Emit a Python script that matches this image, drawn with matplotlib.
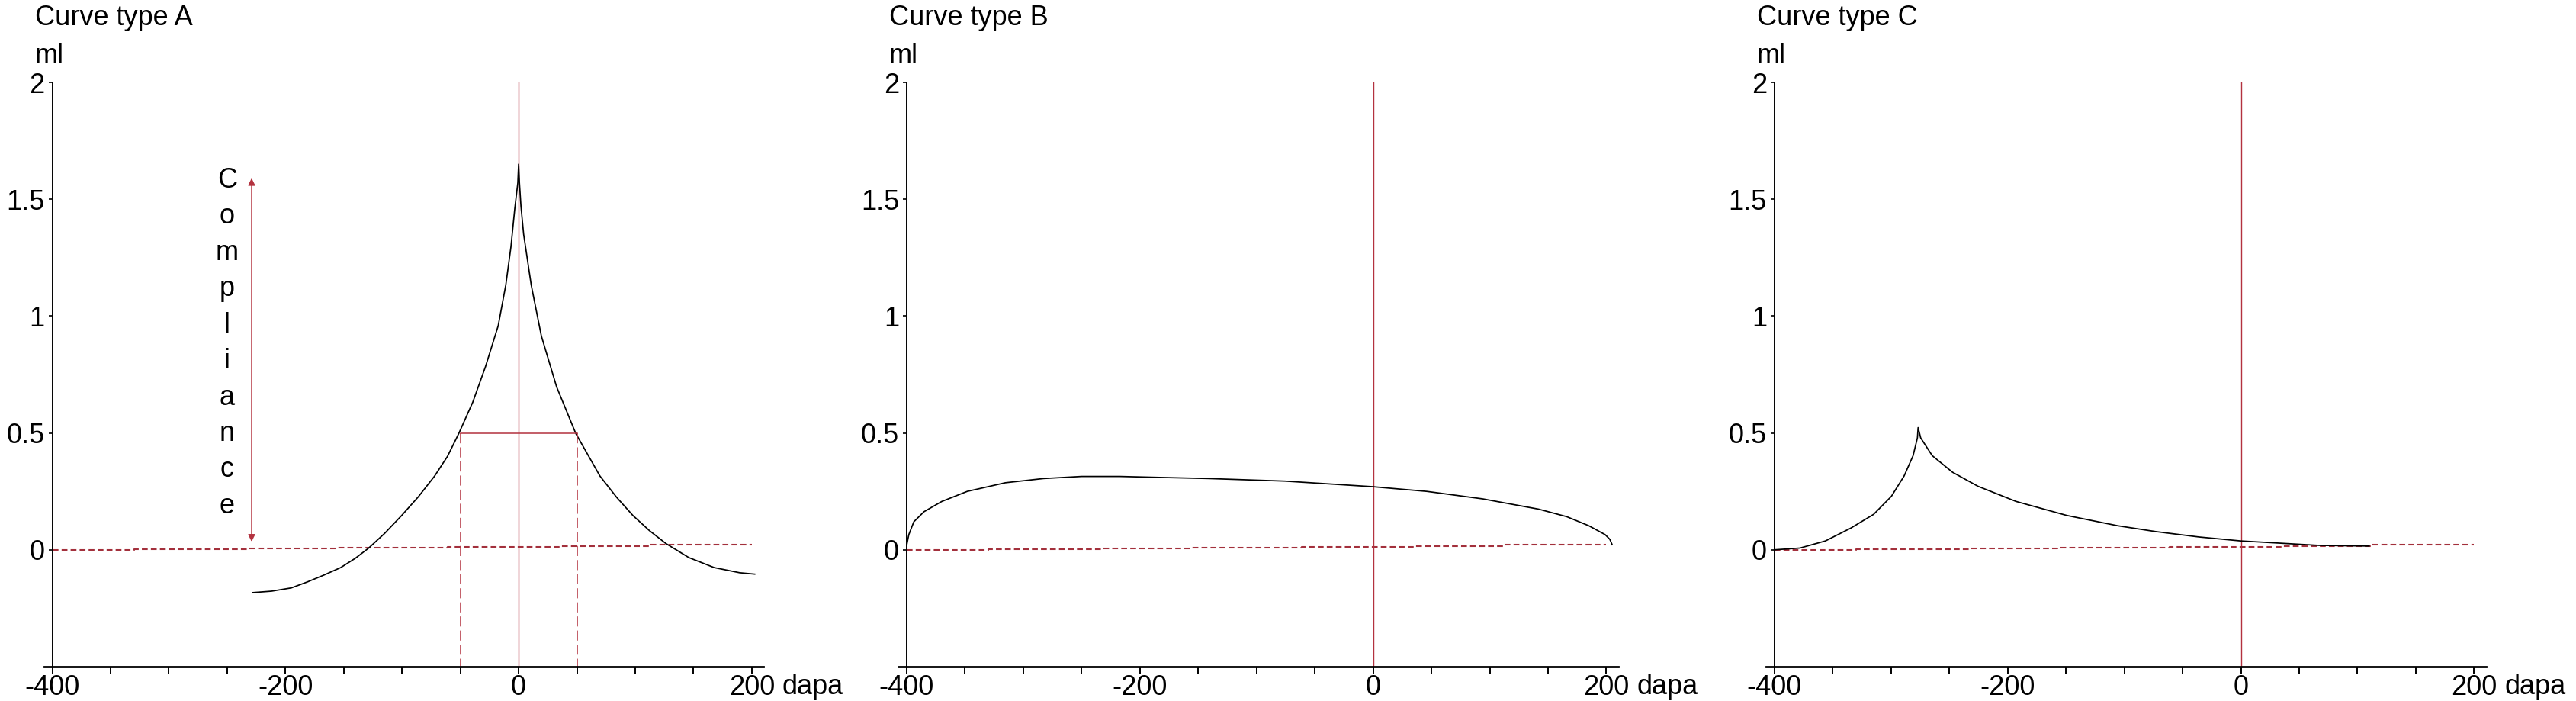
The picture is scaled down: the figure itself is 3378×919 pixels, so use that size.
import matplotlib
matplotlib.use("Agg")
import matplotlib.pyplot as plt
from matplotlib.ticker import FixedLocator, NullFormatter

plt.rcParams['font.family'] = ['Liberation Sans', 'DejaVu Sans']
plt.rcParams['lines.scale_dashes'] = False

# ---------------- data ----------------
titles = ['Curve type A', 'Curve type B', 'Curve type C']
y_unit = 'ml'
x_unit = 'dapa'
x_major_ticks = [-400, -200, 0, 200]
x_minor_ticks = [-350, -300, -250, -150, -100, -50, 50, 100, 150]
y_ticks = [0, 0.5, 1, 1.5, 2]
y_tick_labels = ['0', '0.5', '1', '1.5', '2']

# reference (baseline) line, slightly rising in small steps
baseline_x = [-400, -330, -233, -157, -61, 35, 112, 200]
baseline_y = [0.0, 0.003, 0.0065, 0.009, 0.014, 0.016, 0.021, 0.021]

curve_a_x = [-228, -212, -195, -181, -167, -152.6, -140, -128.6, -115, -100.3, -86,
             -72, -61, -51.3, -39.3, -28.4, -17.5, -11, -6.6, -3.3, -0.7, 0, 0.7,
             2, 4.3, 10.8, 19.5, 32.6, 49, 69.7, 84, 98, 112, 126.3, 145.9, 167.7,
             189.5, 202.5]
curve_a_y = [-0.183, -0.177, -0.163, -0.137, -0.108, -0.076, -0.036, 0.0075, 0.07,
             0.147, 0.227, 0.316, 0.40, 0.498, 0.632, 0.784, 0.959, 1.133, 1.296,
             1.46, 1.57, 1.65, 1.57, 1.47, 1.35, 1.133, 0.915, 0.697, 0.498, 0.316,
             0.225, 0.147, 0.083, 0.027, -0.033, -0.076, -0.098, -0.104]

curve_b_x = [-400, -398.2, -393.9, -385.2, -369.9, -348.1, -315.4, -282.7, -250,
             -217.3, -184.6, -141, -75.6, 0, 46, 94, 142, 166, 185, 199, 203, 205]
curve_b_y = [0.02, 0.065, 0.12, 0.163, 0.207, 0.25, 0.287, 0.305, 0.314, 0.314,
             0.31, 0.305, 0.294, 0.27, 0.25, 0.218, 0.174, 0.142, 0.103, 0.065,
             0.045, 0.022]

curve_c_x = [-400, -378.1, -356.3, -334.5, -314.9, -299.7, -288.8, -281.1, -277.4,
             -276.8, -274.6, -264.7, -247.3, -225.5, -192.8, -149.2, -105.6, -72.9,
             -36, 0, 67, 110]
curve_c_y = [0.0, 0.0076, 0.038, 0.093, 0.152, 0.229, 0.316, 0.403, 0.479, 0.523,
             0.479, 0.403, 0.332, 0.272, 0.207, 0.147, 0.103, 0.078, 0.055, 0.038,
             0.019, 0.016]

curves_x = [curve_a_x, curve_b_x, curve_c_x]
curves_y = [curve_a_y, curve_b_y, curve_c_y]

# annotation values for curve A
half_level = 0.5
half_width_x = [-50, 50]
compliance_x = -229
compliance_y = [0.035, 1.59]
compliance_label = 'Compliance'

# ---------------- style / layout ----------------
W, H = 3378, 919
DPI = 100
PT = 72.0 / DPI  # points per pixel
RED = '#b3323f'
RED_DARK = '#a3303c'
FS = 26

fig = plt.figure(figsize=(W / DPI, H / DPI), dpi=DPI)
zero_px = [680.1, 1800.6, 2938.5]
px_per_unit = 1.529
xlim = (-407, 210)
ax_top_px, ax_bot_px = 108, 874

axes = []
for i in range(3):
    left_px = zero_px[i] + xlim[0] * px_per_unit
    width_px = (xlim[1] - xlim[0]) * px_per_unit
    ax = fig.add_axes([left_px / W, 1 - ax_bot_px / H, width_px / W,
                       (ax_bot_px - ax_top_px) / H])
    axes.append(ax)
    ax.set_xlim(*xlim)
    ax.set_ylim(-0.5, 2.0)
    for s in ['top', 'right']:
        ax.spines[s].set_visible(False)
    ax.spines['left'].set_position(('data', -400))
    ax.spines['left'].set_linewidth(1.4)
    ax.spines['bottom'].set_linewidth(2.0)

    ax.xaxis.set_major_locator(FixedLocator(x_major_ticks))
    ax.xaxis.set_minor_locator(FixedLocator(x_minor_ticks))
    ax.xaxis.set_minor_formatter(NullFormatter())
    ax.set_xticklabels([str(v) for v in x_major_ticks])
    ax.tick_params(axis='x', which='both', direction='out', length=9 * PT,
                   width=1.4, pad=0.5, labelsize=FS)
    ax.set_yticks(y_ticks)
    ax.set_yticklabels(y_tick_labels)
    ax.tick_params(axis='y', direction='out', length=5 * PT, width=1.2,
                   pad=5 * PT, labelsize=FS)

    # baseline reference line
    ax.plot(baseline_x, baseline_y, drawstyle='steps-post', color=RED_DARK,
            lw=1.5, dashes=(5.5, 3.0))
    # vertical line at 0
    ax.axvline(0, color=RED, lw=1.0)
    # tympanogram curve
    ax.plot(curves_x[i], curves_y[i], color='black', lw=1.25,
            solid_joinstyle='round')

    # titles and units
    ax.annotate(titles[i], xy=(-400, 1), xycoords=('data', 'axes fraction'),
                xytext=(-23 * PT, 75 * PT), textcoords='offset points',
                ha='left', va='baseline', fontsize=FS)
    ax.annotate(y_unit, xy=(-400, 1), xycoords=('data', 'axes fraction'),
                xytext=(-23 * PT, 25 * PT), textcoords='offset points',
                ha='left', va='baseline', fontsize=FS)
    ax.annotate(x_unit, xy=(200, 0), xycoords=('data', 'axes fraction'),
                xytext=(40 * PT, -9.5 * PT), textcoords='offset points',
                ha='left', va='top', fontsize=FS)

# curve A extras
axA = axes[0]
axA.plot(half_width_x, [half_level, half_level], color=RED, lw=1.1)
for xv in half_width_x:
    axA.plot([xv, xv], [half_level, -0.5], color=RED, lw=1.1, dashes=(9.5, 3.8))
axA.annotate('', xy=(compliance_x, compliance_y[0]),
             xytext=(compliance_x, compliance_y[1]),
             arrowprops=dict(arrowstyle='<|-|>', color=RED, lw=1.0,
                             mutation_scale=14, shrinkA=0, shrinkB=0))
axA.text(-250, 0.884, '\n'.join(compliance_label), ha='center', va='center',
         fontsize=FS, linespacing=1.46)

fig.savefig('out.png', dpi=DPI)
